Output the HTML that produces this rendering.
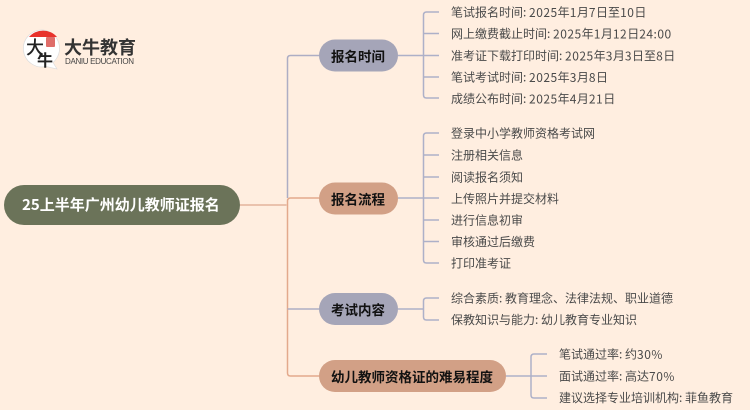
<!DOCTYPE html>
<html lang="zh">
<head>
<meta charset="utf-8">
<style>
html,body{margin:0;padding:0;width:750px;height:410px;overflow:hidden;background:#ffeee0}
svg{display:block}
text{font-family:"Liberation Sans","Noto Sans CJK SC",sans-serif}
.l{font-family:"Noto Sans CJK SC",sans-serif;font-size:12px;fill:#4a4a4a;dominant-baseline:central}
.d{letter-spacing:.5px}
.b{font-family:"Noto Sans CJK SC",sans-serif;font-size:13.5px;font-weight:700;fill:#111;dominant-baseline:central}
</style>
</head>
<body>
<svg width="750" height="410" viewBox="0 0 750 410" xmlns="http://www.w3.org/2000/svg">
<rect width="750" height="410" fill="#ffeee0"/>
<!-- Logo -->
<path d="M43 30a18.500 18.500 0 1 0 3 36.500l11 2.500-4-6.500a18.500 18.500 0 0 0-10-32.500z" fill="#fff" stroke="#ddd" stroke-width=".7"/>
<path d="M29 37a18.500 18.500 0 0 1 28 0z" fill="#e8322c"/>
<rect x="46" y="37" width="9" height="10" rx="1" fill="#d9534f" opacity=".85"/>
<text x="26" y="54" style="font-family:'Noto Sans CJK SC',sans-serif;font-size:18px;font-weight:500" fill="#222">大</text>
<text x="37" y="66" style="font-family:'Noto Sans CJK SC',sans-serif;font-size:16px;font-weight:700" fill="#222">牛</text>
<text x="64" y="54" style="font-family:'Noto Sans CJK SC',sans-serif;font-size:18px;font-weight:700" fill="#333">大牛教育</text>
<text x="65" y="64" style="font-size:8px" fill="#444" textLength="69">DANIU EDUCATION</text>

<!-- Main connectors -->
<g fill="none" stroke-width="1.500">
<path d="M240 205H286.500" stroke="#e3b49c"/>
<path d="M319 55.500H290.500Q287.500 55.500 287.500 58.500V198" stroke="#adadc4"/>
<path d="M287.500 205V201Q287.500 198 290.500 198H319" stroke="#e3a98c"/>
<path d="M287.500 205V373Q287.500 376 290.500 376H319" stroke="#e3a98c"/>
<path d="M287.500 309H319" stroke="#adadc4"/>

<g stroke="#adb0c8">
<path d="M398 55.500H423.500M439 12H426.500Q423.500 12 423.500 15V95Q423.500 98 426.500 98H439M423.500 33.500H439M423.500 55.500H439M423.500 77H439"/>
<path d="M398 198H423.500M439 133H426.500Q423.500 133 423.500 136V260Q423.500 263 426.500 263H439M423.500 155H439M423.500 177H439M423.500 198H439M423.500 220H439M423.500 241.500H439"/>
<path d="M398 309H423.500M439 298H426.500Q423.500 298 423.500 301V317Q423.500 320 426.500 320H439"/>
<path d="M506 376H531M547 354H534Q531 354 531 357V395Q531 398 534 398H547M531 376H547"/>
</g>
</g>

<!-- Root -->
<rect x="4" y="185" width="236" height="40" rx="20" fill="#6b7359"/>
<text x="22" y="204.500" style="font-family:'Noto Sans CJK SC',sans-serif;font-size:15px;font-weight:700;dominant-baseline:central" fill="#fff">25上半年广州幼儿教师证报名</text>

<!-- Branches -->
<rect x="319" y="39.500" width="79" height="32" rx="16" fill="#a5a5b8"/>
<text class="b" x="331" y="55.500">报名时间</text>
<rect x="319" y="182.500" width="79" height="32" rx="16" fill="#d2a086"/>
<text class="b" x="331" y="198.500">报名流程</text>
<rect x="319" y="293" width="79" height="32" rx="16" fill="#a5a5b8"/>
<text class="b" x="331" y="309">考试内容</text>
<rect x="319" y="360" width="187" height="32" rx="16" fill="#d2a086"/>
<text class="b" x="331" y="376">幼儿教师资格证的难易程度</text>

<!-- Leaves -->
<text class="l" x="451" y="12">笔试报名时间: <tspan class="d">2025</tspan>年<tspan class="d">1</tspan>月<tspan class="d">7</tspan>日至<tspan class="d">10</tspan>日</text>
<text class="l" x="451" y="33.500">网上缴费截止时间: <tspan class="d">2025</tspan>年<tspan class="d">1</tspan>月<tspan class="d">12</tspan>日<tspan class="d">24:00</tspan></text>
<text class="l" x="451" y="55.500">准考证下载打印时间: <tspan class="d">2025</tspan>年<tspan class="d">3</tspan>月<tspan class="d">3</tspan>日至<tspan class="d">8</tspan>日</text>
<text class="l" x="451" y="77">笔试考试时间: <tspan class="d">2025</tspan>年<tspan class="d">3</tspan>月<tspan class="d">8</tspan>日</text>
<text class="l" x="451" y="98.500">成绩公布时间: <tspan class="d">2025</tspan>年<tspan class="d">4</tspan>月<tspan class="d">21</tspan>日</text>

<text class="l" x="451" y="133">登录中小学教师资格考试网</text>
<text class="l" x="451" y="155">注册相关信息</text>
<text class="l" x="451" y="177">阅读报名须知</text>
<text class="l" x="451" y="198.500">上传照片并提交材料</text>
<text class="l" x="451" y="220">进行信息初审</text>
<text class="l" x="451" y="241.500">审核通过后缴费</text>
<text class="l" x="451" y="263">打印准考证</text>

<text class="l" x="451" y="298">综合素质: 教育理念、法律法规、职业道德</text>
<text class="l" x="451" y="319.500">保教知识与能力: 幼儿教育专业知识</text>

<text class="l" x="559" y="354">笔试通过率: 约<tspan class="d">30%</tspan></text>
<text class="l" x="559" y="376">面试通过率: 高达<tspan class="d">70%</tspan></text>
<text class="l" x="559" y="397.500">建议选择专业培训机构: 菲鱼教育</text>
</svg>
</body>
</html>
